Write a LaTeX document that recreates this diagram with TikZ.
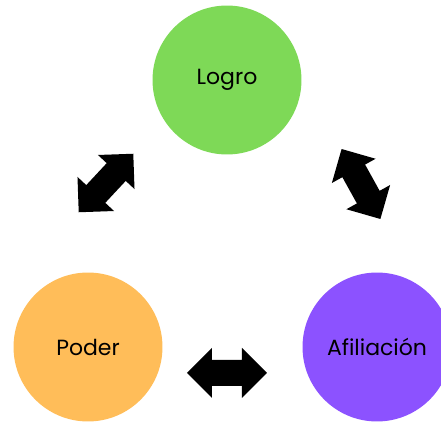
\documentclass[tikz,border=0pt]{standalone}
\usepackage{fontspec}
\setmainfont{Poppins}
\usepackage{tikz}

\definecolor{logrogreen}{HTML}{7ED957}
\definecolor{poderorange}{HTML}{FFBD59}
\definecolor{afilpurple}{HTML}{8C52FF}

\begin{document}
\begin{tikzpicture}[x=0.02cm,y=0.02cm,
    circ/.style={circle,minimum size=2.98cm,inner sep=0pt,
      font=\fontsize{12.5}{15}\selectfont}]

  % frame
  \useasboundingbox (0,0) rectangle (441,427);

  % the three motives
  \node[circ,fill=logrogreen]  (logro) at (227,347) {Logro};
  \node[circ,fill=poderorange] (poder) at (88,80)   {Poder};
  \node[circ,fill=afilpurple]  (afil)  at (377,80)  {Afiliación};

  % block double arrows between them
  \coordinate (logropoder) at (106,244);
  \coordinate (logroafil)  at (361,243);
  \coordinate (poderafil)  at (227,54);
  \foreach \c/\ang in {logropoder/47,logroafil/-61,poderafil/0} {
    \fill[black,shift={(\c)},rotate=\ang]
      (-40,0) -- (-15,25) -- (-15,13) -- (15,13) -- (15,25) -- (40,0)
      -- (15,-25) -- (15,-13) -- (-15,-13) -- (-15,-25) -- cycle;
  }

\end{tikzpicture}
\end{document}
